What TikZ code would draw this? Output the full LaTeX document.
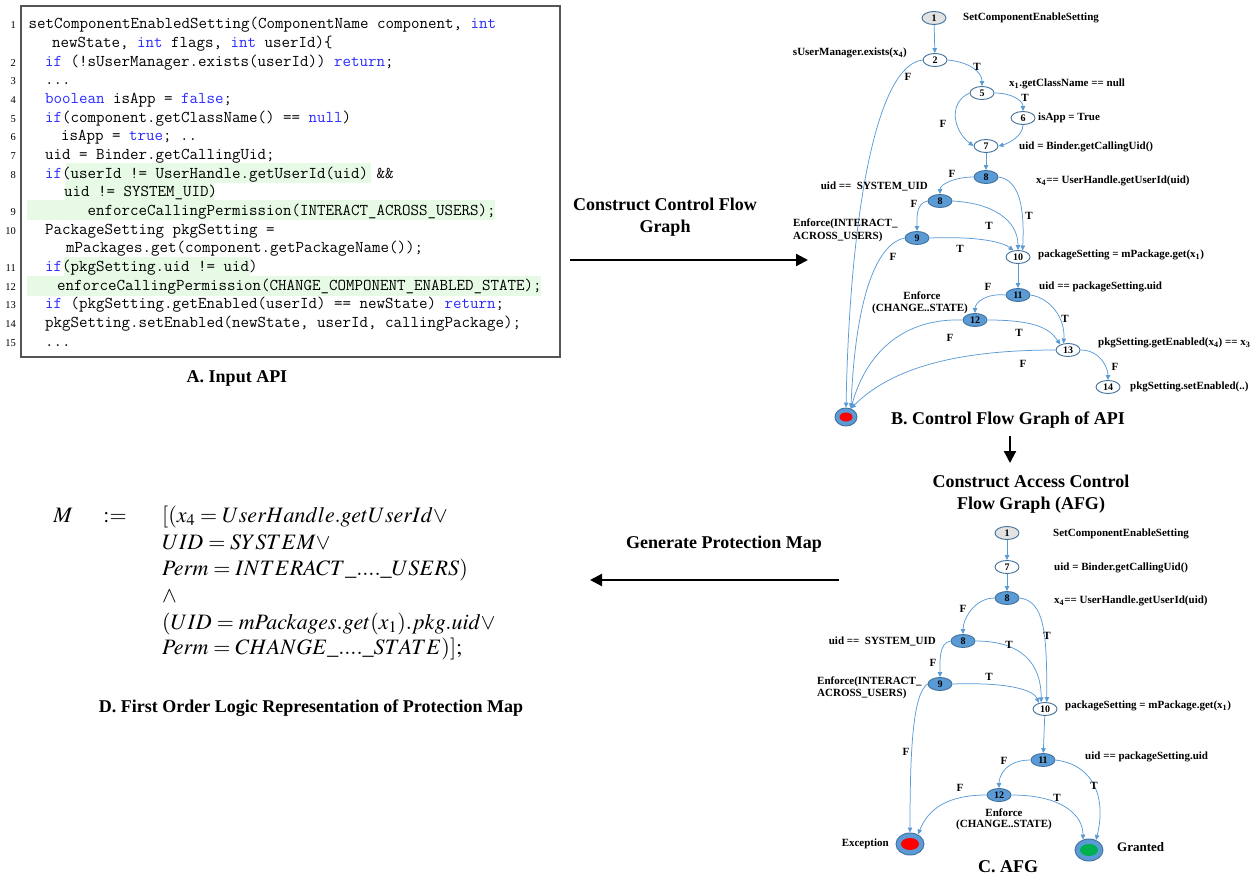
\documentclass[tikz,border=0pt]{standalone}
\usepackage{mathptmx}
\usepackage[no-math]{fontspec}
\setmainfont{Liberation Serif}
\usetikzlibrary{shapes.geometric,arrows.meta}
\definecolor{kwblue}{HTML}{2B2BFF}
\definecolor{hlgreen}{HTML}{E6FAE6}
\definecolor{nodeblue}{HTML}{5B9BD5}
\definecolor{nodeborder}{HTML}{41719C}
\definecolor{edgeblue}{HTML}{5B9BD5}
\definecolor{nodegray}{HTML}{E2E2E2}
\definecolor{exred}{HTML}{FF0000}
\definecolor{grgreen}{HTML}{00B050}
\definecolor{boxgray}{HTML}{555555}
\newcommand{\kw}[1]{\textcolor{kwblue}{#1}}
\newcommand{\codefont}{\ttfamily\fontsize{16.5}{18.65}\selectfont}
\tikzset{
  codeline/.style={anchor=base west, inner sep=0pt, font=\codefont},
  lnum/.style={anchor=base east, inner sep=0pt, font=\fontsize{10.5}{11}\selectfont},
  hlbox/.style={fill=hlgreen, draw=none},
  cnode/.style={ellipse, draw=nodeborder, line width=0.9pt, minimum width=24pt, minimum height=13pt, inner sep=0pt, font=\fontsize{10}{10}\selectfont\bfseries},
  wnode/.style={cnode, fill=white},
  bnode/.style={cnode, fill=nodeblue},
  gnode/.style={cnode, fill=nodegray},
  outerell/.style={ellipse, draw=nodeborder, line width=0.9pt, fill=nodeblue, inner sep=0pt},
  innerell/.style={ellipse, draw=none, inner sep=0pt},
  flowedge/.style={draw=edgeblue, line width=0.75pt, -{Triangle[length=5pt,width=4.5pt]}},
  glbl/.style={font=\fontsize{11}{12}\selectfont\bfseries, inner sep=0pt},
  tflbl/.style={font=\fontsize{11}{11}\selectfont\bfseries, inner sep=0pt},
  capt/.style={font=\fontsize{18}{22}\selectfont\bfseries, inner sep=0pt, align=center},
  fml/.style={anchor=base west, inner sep=0pt, font=\fontsize{22}{26}\selectfont},
  bigarr/.style={line width=2.2pt, -{Triangle[length=12pt,width=12pt]}},
}
\begin{document}
\begin{tikzpicture}[x=1pt,y=-1pt]
\useasboundingbox (0,0) rectangle (1252,880);
% ---------------- A: code ----------------
\fill[hlbox] (66,163) rectangle (371,182.5);
\fill[hlbox] (65,182) rectangle (214,200.5);
\fill[hlbox] (27,200) rectangle (495,220);
\fill[hlbox] (64,257) rectangle (250,276.5);
\fill[hlbox] (27,276) rectangle (541,296);
\draw[boxgray, line width=1.2pt] (21,6) rectangle (560,357);
\node[codeline] (l1) at (28.5,29) {setComponentEnabledSetting(ComponentName component, \kw{int}};
\node[codeline] (l1b) at (52,47.65) {newState, \kw{int} flags, \kw{int} userId)\{};
\node[codeline] (l2) at (45,66.3) {\kw{if} (!sUserManager.exists(userId)) \kw{return};};
\node[codeline] (l3) at (45,84.95) {...};
\node[codeline] (l4) at (45,103.6) {\kw{boolean} isApp = \kw{false};};
\node[codeline] (l5) at (45,122.25) {\kw{if}(component.getClassName() == \kw{null})};
\node[codeline] (l6) at (61,140.9) {isApp = \kw{true}; ..};
\node[codeline] (l7) at (45,159.55) {uid = Binder.getCallingUid;};
\node[codeline] (l8) at (45,178.2) {\kw{if}(userId != UserHandle.getUserId(uid) \&\&};
\node[codeline] (l8b) at (64,196.85) {uid != SYSTEM\_UID)};
\node[codeline] (l9) at (87.5,215.5) {enforceCallingPermission(INTERACT\_ACROSS\_USERS);};
\node[codeline] (l10) at (45,234.15) {PackageSetting pkgSetting =};
\node[codeline] (l10b) at (66,252.8) {mPackages.get(component.getPackageName());};
\node[codeline] (l11) at (45,271.45) {\kw{if}(pkgSetting.uid != uid)};
\node[codeline] (l12) at (57,290.1) {enforceCallingPermission(CHANGE\_COMPONENT\_ENABLED\_STATE);};
\node[codeline] (l13) at (45,308.75) {\kw{if} (pkgSetting.getEnabled(userId) == newState) \kw{return};};
\node[codeline] (l14) at (45,327.4) {pkgSetting.setEnabled(newState, userId, callingPackage);};
\node[codeline] (l15) at (45,346.05) {...};
\node[lnum] (n1) at (16,29) {1};
\node[lnum] (n2) at (16,66.3) {2};
\node[lnum] (n3) at (16,84.95) {3};
\node[lnum] (n4) at (16,103.6) {4};
\node[lnum] (n5) at (16,122.25) {5};
\node[lnum] (n6) at (16,140.9) {6};
\node[lnum] (n7) at (16,159.55) {7};
\node[lnum] (n8) at (16,178.2) {8};
\node[lnum] (n9) at (16,215.5) {9};
\node[lnum] (n10) at (16,234.15) {10};
\node[lnum] (n11) at (16,271.45) {11};
\node[lnum] (n12) at (16,290.1) {12};
\node[lnum] (n13) at (16,308.75) {13};
\node[lnum] (n14) at (16,327.4) {14};
\node[lnum] (n15) at (16,346.05) {15};
\node[capt] (capA) at (237,378) {A. Input API};
% ---------------- middle arrows ----------------
\node[capt] (t1) at (665,217) {Construct Control Flow\\Graph};
\coordinate (a1s) at (570,260);
\coordinate (a1e) at (808,260);
\draw[bigarr] (a1s) -- (a1e);
\coordinate (a2s) at (1010,436);
\coordinate (a2e) at (1010,463);
\draw[bigarr] (a2s) -- (a2e);
\node[capt] (t2) at (1031,494) {Construct Access Control\\Flow Graph (AFG)};
\node[capt] (t3) at (724,544) {Generate Protection Map};
\coordinate (a3s) at (839,580);
\coordinate (a3e) at (590,580);
\draw[bigarr] (a3s) -- (a3e);
% ---------------- B: CFG ----------------
\node[gnode] (b1) at (934,18) {1};
\node[wnode] (b2) at (935,60) {2};
\node[wnode] (b5) at (982,93) {5};
\node[wnode] (b6) at (1023,118) {6};
\node[wnode] (b7) at (986,146) {7};
\node[bnode] (b8a) at (986,177) {8};
\node[bnode] (b8b) at (940,201) {8};
\node[bnode] (b9) at (917,238) {9};
\node[wnode] (b10) at (1018,257) {10};
\node[bnode] (b11) at (1018,295) {11};
\node[bnode] (b12) at (975,320) {12};
\node[wnode] (b13) at (1068,350) {13};
\node[wnode] (b14) at (1108,387) {14};
\node[outerell, minimum width=22pt, minimum height=18pt] (bx) at (846,417) {};
\node[innerell, fill=exred, minimum width=13pt, minimum height=9pt] (bxi) at (bx.center) {};
\draw[flowedge] (b1) -- (b2);
\draw[flowedge] (b2.east) .. controls +(22,2) and +(0,-14) .. (b5.north);
\draw[flowedge] (b2.west) .. controls +(-45,5) and +(4,-200) .. (bx.north);
\draw[flowedge] (b5.east) .. controls +(18,0) and +(0,-10) .. (b6.north);
\draw[flowedge] (b5.west) .. controls +(-22,10) and +(-20,-15) .. (b7.west);
\draw[flowedge] (b6.south) .. controls +(0,12) and +(8,-2) .. (b7.east);
\draw[flowedge] (b7) -- (b8a);
\draw[flowedge] (b8a.west) .. controls +(-18,0) and +(0,-10) .. (b8b.north);
\draw[flowedge] (b8a.east) .. controls +(22,3) and +(2,-40) .. (b10.55);
\draw[flowedge] (b8b.east) .. controls +(40,2) and +(0,-30) .. (b10.north);
\draw[flowedge] (b8b.west) .. controls +(-12,2) and +(0,-12) .. (b9.north);
\draw[flowedge] (b9.east) .. controls +(50,-2) and +(-10,-8) .. (b10.125);
\draw[flowedge] (b9.west) .. controls +(-25,5) and +(5,-120) .. (bx.60);
\draw[flowedge] (b10) -- (b11);
\draw[flowedge] (b11.west) .. controls +(-20,-2) and +(0,-10) .. (b12.north);
\draw[flowedge] (b11.east) .. controls +(20,3) and +(2,-25) .. (b13.125);
\draw[flowedge] (b12.east) .. controls +(50,0) and +(-10,-15) .. (b13.145);
\draw[flowedge] (b12.west) .. controls +(-60,-2) and +(15,-55) .. (bx.60);
\draw[flowedge] (b13.west) .. controls +(-100,0) and +(40,-40) .. (bx.60);
\draw[flowedge] (b13.east) .. controls +(20,0) and +(0,-12) .. (b14.north);
\node[glbl, anchor=west] (lb1) at (963,18) {SetComponentEnableSetting};
\node[glbl, anchor=east] (lb2) at (907,53) {sUserManager.exists(x\textsubscript{4})};
\node[tflbl] (tb1) at (977,67) {T};
\node[tflbl] (fb1) at (908,77) {F};
\node[glbl, anchor=west] (lb5) at (1009,84) {x\textsubscript{1}.getClassName == null};
\node[tflbl] (tb2) at (1025,98) {T};
\node[glbl, anchor=west] (lb6) at (1038,118) {isApp = True};
\node[tflbl] (fb2) at (943,124) {F};
\node[glbl, anchor=west] (lb7) at (1019,147) {uid = Binder.getCallingUid()};
\node[tflbl] (fb3) at (952,174) {F};
\node[glbl, anchor=west] (lb8a) at (1036,181) {x\textsubscript{4}== UserHandle.getUserId(uid)};
\node[glbl, anchor=east] (lb8b) at (928,186) {uid == \ SYSTEM\_UID};
\node[tflbl] (fb4) at (914,204) {F};
\node[tflbl] (tb3) at (1029,216) {T};
\node[tflbl] (tb4) at (989,226) {T};
\node[glbl, anchor=west] (lb9a) at (793,224) {Enforce(INTERACT\_};
\node[glbl, anchor=west] (lb9b) at (793,237) {ACROSS\_USERS)};
\node[tflbl] (fb5) at (893,257) {F};
\node[tflbl] (tb5) at (960,249) {T};
\node[glbl, anchor=west] (lb10) at (1038,255) {packageSetting = mPackage.get(x\textsubscript{1})};
\node[tflbl] (fb6) at (988,287) {F};
\node[glbl, anchor=west] (lb11) at (1039,287) {uid == packageSetting.uid};
\node[glbl] (lb12a) at (922,296) {Enforce};
\node[glbl] (lb12b) at (920,309) {(CHANGE..STATE)};
\node[tflbl] (tb6) at (1065,319) {T};
\node[tflbl] (fb7) at (950,338) {F};
\node[tflbl] (tb7) at (1019,333) {T};
\node[glbl, anchor=west] (lb13) at (1098,343) {pkgSetting.getEnabled(x\textsubscript{4}) == x\textsubscript{3}};
\node[tflbl] (fb8) at (1023,364) {F};
\node[tflbl] (fb9) at (1115,367) {F};
\node[glbl, anchor=west] (lb14) at (1130,387) {pkgSetting.setEnabled(..)};
\node[capt] (capB) at (1008,420) {B. Control Flow Graph of API};
% ---------------- C: AFG ----------------
\node[gnode] (c1) at (1007,533) {1};
\node[wnode] (c7) at (1007,567) {7};
\node[bnode] (c8a) at (1007,598) {8};
\node[bnode] (c8b) at (963,641) {8};
\node[bnode] (c9) at (940,684) {9};
\node[wnode] (c10) at (1045,709) {10};
\node[bnode] (c11) at (1043,760) {11};
\node[bnode] (c12) at (999,795) {12};
\node[outerell, minimum width=28pt, minimum height=22pt] (exc) at (910,844) {};
\node[innerell, fill=exred, minimum width=18pt, minimum height=12pt] (exci) at (exc.center) {};
\node[outerell, minimum width=28pt, minimum height=22pt] (gr) at (1089,850) {};
\node[innerell, fill=grgreen, minimum width=18pt, minimum height=12pt] (gri) at (gr.center) {};
\draw[flowedge] (c1) -- (c7);
\draw[flowedge] (c7) -- (c8a);
\draw[flowedge] (c8a.west) .. controls +(-20,0) and +(0,-15) .. (c8b.north);
\draw[flowedge] (c8a.east) .. controls +(25,3) and +(0,-70) .. (c10.75);
\draw[flowedge] (c8b.east) .. controls +(45,0) and +(0,-40) .. (c10.120);
\draw[flowedge] (c8b.west) .. controls +(-12,2) and +(0,-15) .. (c9.north);
\draw[flowedge] (c9.east) .. controls +(60,-2) and +(-5,-12) .. (c10.135);
\draw[flowedge] (c9.west) .. controls +(-15,10) and +(0,-80) .. (exc.north);
\draw[flowedge] (c10) -- (c11);
\draw[flowedge] (c11.west) .. controls +(-25,0) and +(0,-12) .. (c12.north);
\draw[flowedge] (c11.east) .. controls +(40,5) and +(10,-40) .. (gr.55);
\draw[flowedge] (c12.west) .. controls +(-40,0) and +(10,-25) .. (exc.50);
\draw[flowedge] (c12.east) .. controls +(50,0) and +(0,-25) .. (gr.120);
\node[glbl, anchor=west] (lc1) at (1053,534) {SetComponentEnableSetting};
\node[glbl, anchor=west] (lc7) at (1054,568) {uid = Binder.getCallingUid()};
\node[glbl, anchor=west] (lc8a) at (1054,601) {x\textsubscript{4}== UserHandle.getUserId(uid)};
\node[tflbl] (fc1) at (963,609) {F};
\node[tflbl] (tc1) at (1047,636) {T};
\node[glbl, anchor=east] (lc8b) at (936,641) {uid == \ SYSTEM\_UID};
\node[tflbl] (tc2) at (1009,645) {T};
\node[tflbl] (fc2) at (933,663) {F};
\node[tflbl] (tc3) at (989,677) {T};
\node[glbl, anchor=west] (lc9a) at (817,682) {Enforce(INTERACT\_};
\node[glbl, anchor=west] (lc9b) at (817,694) {ACROSS\_USERS)};
\node[glbl, anchor=west] (lc10) at (1065,706) {packageSetting = mPackage.get(x\textsubscript{1})};
\node[tflbl] (fc3) at (906,752) {F};
\node[tflbl] (fc4) at (1004,761) {F};
\node[glbl, anchor=west] (lc11) at (1085,757) {uid == packageSetting.uid};
\node[tflbl] (tc4) at (1094,786) {T};
\node[tflbl] (fc5) at (960,788) {F};
\node[tflbl] (tc5) at (1057,798) {T};
\node[glbl] (lc12a) at (1004,813) {Enforce};
\node[glbl] (lc12b) at (1004,825) {(CHANGE..STATE)};
\node[glbl, anchor=east] (lexc) at (889,844) {Exception};
\node[glbl, anchor=west, font=\fontsize{13}{14}\selectfont\bfseries] (lgr) at (1117,847) {Granted};
\node[capt] (capC) at (1008,867) {C. AFG};
% ---------------- D: formula ----------------
\node[anchor=base, inner sep=0pt, font=\fontsize{22}{26}\selectfont] (fM) at (63,522) {$M$};
\node[anchor=base, inner sep=0pt, font=\fontsize{22}{26}\selectfont] (fdef) at (115,522) {$:=$};
\node[fml] (f1) at (162,522) {$[(x_4 = UserHandle.getUserId\vee$};
\node[fml] (f2) at (162,549) {$UID = SYSTEM\vee$};
\node[fml] (f3) at (162,575) {$Perm = INTERACT\_....\_USERS)$};
\node[fml] (f4) at (162,602) {$\wedge$};
\node[fml] (f5) at (162,629) {$(UID = mPackages.get(x_1).pkg.uid\vee$};
\node[fml] (f6) at (162,654) {$Perm = CHANGE\_....\_STATE)];$};
\node[capt] (capD) at (311,708) {D. First Order Logic Representation of Protection Map};
\end{tikzpicture}
\end{document}
